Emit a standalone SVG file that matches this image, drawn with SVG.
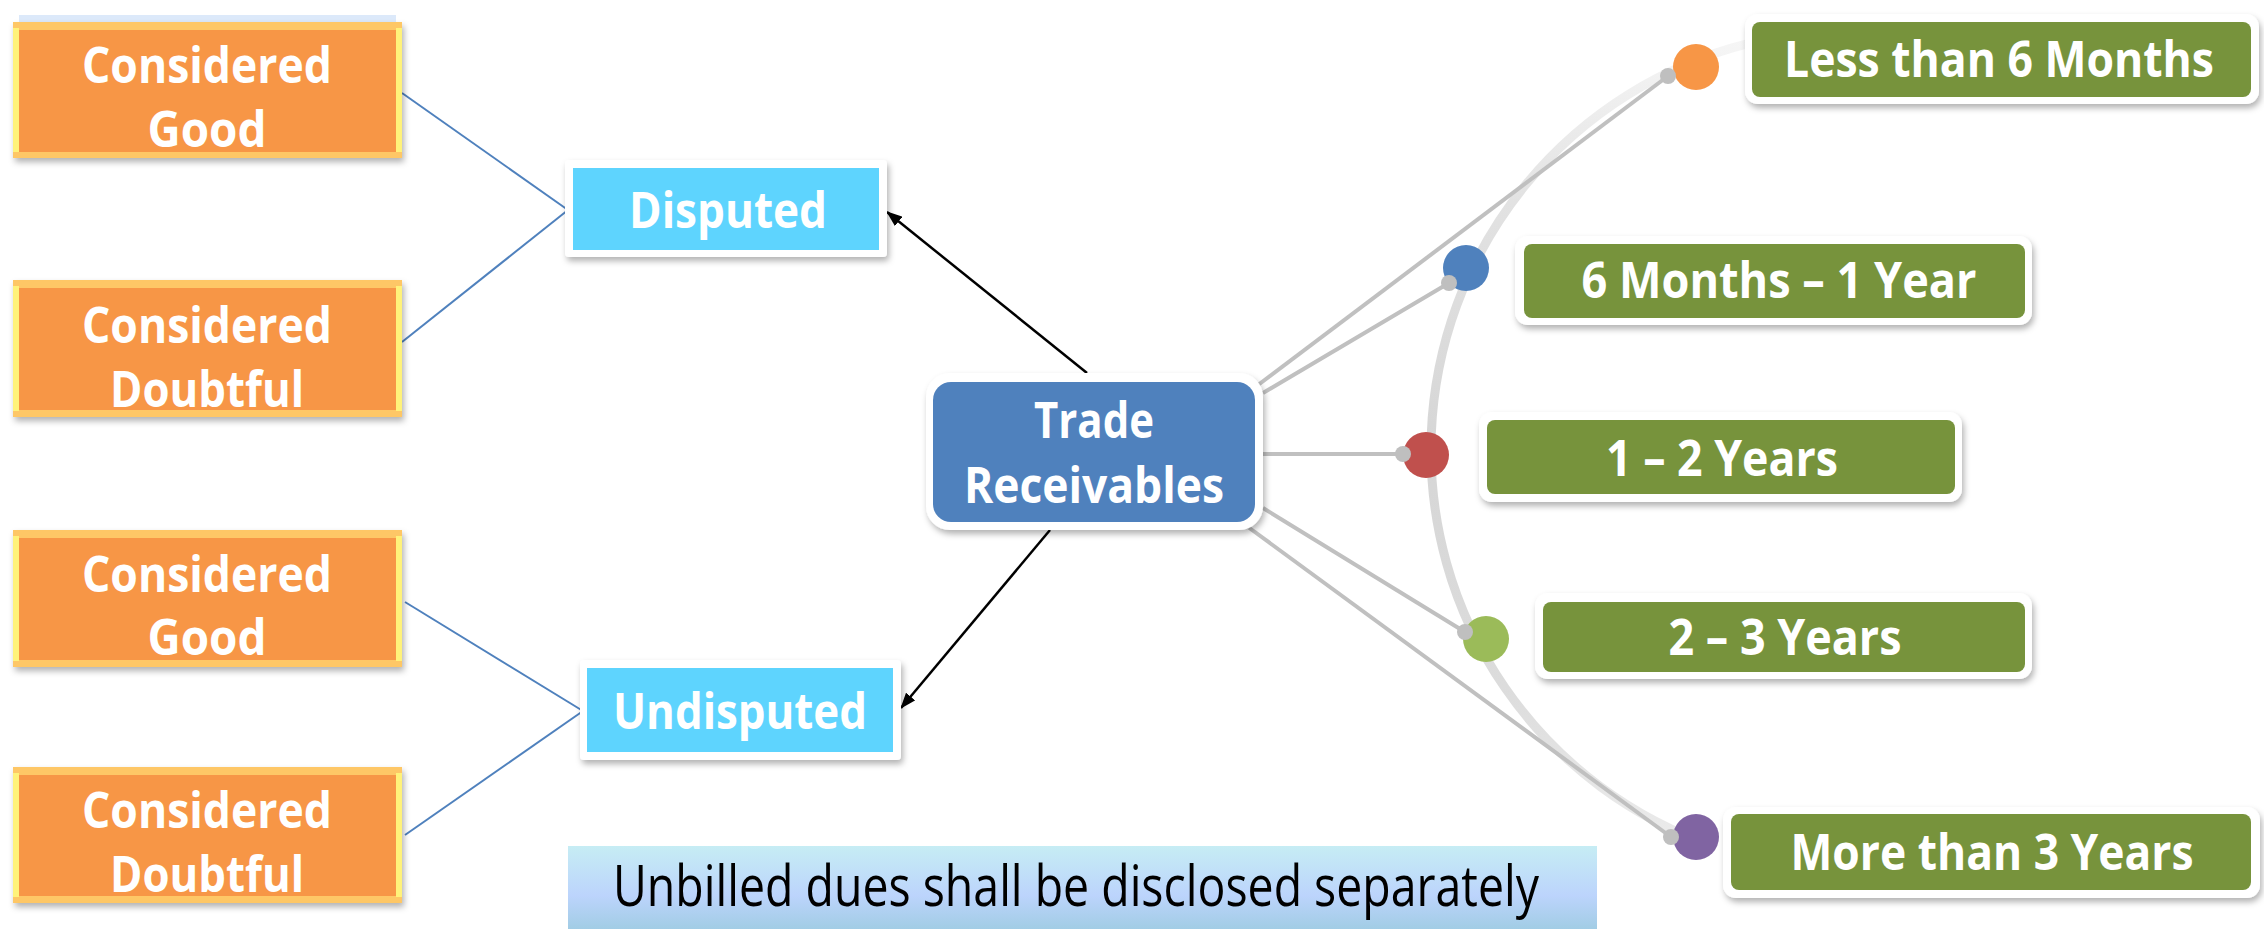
<svg xmlns="http://www.w3.org/2000/svg" width="2264" height="929" viewBox="0 0 2264 929">
<style>
.lbl{font-family:"Open Sans","Noto Sans","Liberation Sans",sans-serif;font-weight:700;font-size:50px;fill:#ffffff;text-anchor:middle}
.note{font-family:"Open Sans","Noto Sans","Liberation Sans",sans-serif;font-weight:400;font-size:56px;fill:#000000;text-anchor:middle}
.ob{fill:#fec766}
.obs{fill:#fff27a}
.of{fill:#f79646}
.frame{fill:#ffffff}
.green{fill:#77933c}
.cyan{fill:#5ed4fe}
.blink{stroke:#4f81bd;stroke-width:2;fill:none}
.blk{stroke:#000000;stroke-width:2.5;fill:none}
.gl{stroke:#c0c0c0;stroke-width:4;fill:none}
.gd{fill:#bfbfbf}
</style>
<defs>
<filter id="sh" x="-10%" y="-20%" width="120%" height="150%">
<feDropShadow dx="2" dy="4" stdDeviation="3" flood-color="#000000" flood-opacity="0.3"/>
</filter>
<linearGradient id="arcg" gradientUnits="userSpaceOnUse" x1="0" y1="40" x2="0" y2="850">
<stop offset="0" stop-color="#f6f6f6"/>
<stop offset="0.2" stop-color="#e2e2e2"/>
<stop offset="0.5" stop-color="#d6d6d6"/>
<stop offset="0.8" stop-color="#dcdcdc"/>
<stop offset="1" stop-color="#ececec"/>
</linearGradient>
<linearGradient id="ubg" x1="0" y1="0" x2="0" y2="1">
<stop offset="0" stop-color="#c6edf4"/>
<stop offset="0.55" stop-color="#bcd4fc"/>
<stop offset="1" stop-color="#9ccbe0"/>
</linearGradient>
<marker id="ah" markerWidth="16" markerHeight="12" refX="15" refY="6" orient="auto" markerUnits="userSpaceOnUse">
<path d="M0,0 L16,6 L0,12 z" fill="#000000"/>
</marker>
</defs>
<rect width="2264" height="929" fill="#ffffff"/>

<g id="timeline-arc">
<path d="M1748,43.6 A419,419 0 0 0 1716,847" stroke="url(#arcg)" stroke-width="9" fill="none"/>
</g>

<g id="connectors">
<line class="blink" x1="402" y1="93" x2="568" y2="210"/>
<line class="blink" x1="568" y1="210" x2="402" y2="342"/>
<line class="blink" x1="405" y1="602" x2="583" y2="711"/>
<line class="blink" x1="583" y1="711" x2="405" y2="835"/>
<line class="blk" x1="1087" y1="373" x2="887" y2="212" marker-end="url(#ah)"/>
<line class="blk" x1="1050" y1="530" x2="901" y2="708" marker-end="url(#ah)"/>
<line class="gl" x1="1258" y1="385" x2="1668" y2="76"/>
<line class="gl" x1="1263" y1="393" x2="1449" y2="283"/>
<line class="gl" x1="1262" y1="454" x2="1403" y2="454"/>
<line class="gl" x1="1263" y1="508" x2="1465" y2="632"/>
<line class="gl" x1="1248" y1="527" x2="1671" y2="837"/>
</g>

<g id="dots">
<circle cx="1696" cy="67" r="23" fill="#f79646"/>
<circle cx="1668" cy="76" r="8" class="gd"/>
<circle cx="1466" cy="268" r="23" fill="#4f81bd"/>
<circle cx="1449" cy="283" r="8" class="gd"/>
<circle cx="1426" cy="455" r="23" fill="#c0504d"/>
<circle cx="1403" cy="454" r="8" class="gd"/>
<circle cx="1486" cy="639" r="23" fill="#9bbb59"/>
<circle cx="1465" cy="632" r="8" class="gd"/>
<circle cx="1696" cy="837" r="23" fill="#8064a2"/>
<circle cx="1671" cy="837" r="8" class="gd"/>
</g>

<g id="good-1">
<rect x="19" y="15" width="377" height="8" fill="#dce9fa"/>
<rect class="ob" x="13" y="22" width="389" height="136" filter="url(#sh)"/>
<rect class="obs" x="13" y="28" width="6" height="124"/>
<rect class="obs" x="396" y="28" width="6" height="124"/>
<rect class="of" x="19" y="30" width="377" height="122"/>
<text class="lbl" x="207" y="83" textLength="250" lengthAdjust="spacingAndGlyphs">Considered</text>
<text class="lbl" x="207" y="147" textLength="119" lengthAdjust="spacingAndGlyphs">Good</text>
</g>

<g id="doubtful-1">
<rect class="ob" x="13" y="280" width="389" height="137" filter="url(#sh)"/>
<rect class="obs" x="13" y="286" width="6" height="125"/>
<rect class="obs" x="396" y="286" width="6" height="125"/>
<rect class="of" x="19" y="288" width="377" height="122"/>
<text class="lbl" x="207" y="343" textLength="250" lengthAdjust="spacingAndGlyphs">Considered</text>
<text class="lbl" x="207" y="407" textLength="194" lengthAdjust="spacingAndGlyphs">Doubtful</text>
</g>

<g id="good-2">
<rect class="ob" x="13" y="530" width="389" height="137" filter="url(#sh)"/>
<rect class="obs" x="13" y="536" width="6" height="125"/>
<rect class="obs" x="396" y="536" width="6" height="125"/>
<rect class="of" x="19" y="538" width="377" height="122"/>
<text class="lbl" x="207" y="592" textLength="250" lengthAdjust="spacingAndGlyphs">Considered</text>
<text class="lbl" x="207" y="655" textLength="119" lengthAdjust="spacingAndGlyphs">Good</text>
</g>

<g id="doubtful-2">
<rect class="ob" x="13" y="767" width="389" height="136" filter="url(#sh)"/>
<rect class="obs" x="13" y="773" width="6" height="124"/>
<rect class="obs" x="396" y="773" width="6" height="124"/>
<rect class="of" x="19" y="775" width="377" height="121"/>
<text class="lbl" x="207" y="828" textLength="250" lengthAdjust="spacingAndGlyphs">Considered</text>
<text class="lbl" x="207" y="892" textLength="194" lengthAdjust="spacingAndGlyphs">Doubtful</text>
</g>

<g id="disputed">
<rect class="frame" x="565" y="160" width="322" height="97" rx="4" filter="url(#sh)"/>
<rect class="cyan" x="573" y="168" width="306" height="82"/>
<text class="lbl" x="728" y="228" textLength="198" lengthAdjust="spacingAndGlyphs">Disputed</text>
</g>

<g id="undisputed">
<rect class="frame" x="580" y="660" width="321" height="100" rx="4" filter="url(#sh)"/>
<rect class="cyan" x="587" y="668" width="306" height="84"/>
<text class="lbl" x="740" y="729" textLength="254" lengthAdjust="spacingAndGlyphs">Undisputed</text>
</g>

<g id="trade-receivables">
<rect class="frame" x="926" y="373" width="337" height="157" rx="24" filter="url(#sh)"/>
<rect x="933" y="382" width="322" height="140" rx="18" fill="#4f81bd"/>
<text class="lbl" x="1094" y="438" textLength="120" lengthAdjust="spacingAndGlyphs">Trade</text>
<text class="lbl" x="1094" y="503" textLength="260" lengthAdjust="spacingAndGlyphs">Receivables</text>
</g>

<g id="less-6-months">
<rect class="frame" x="1745" y="14" width="514" height="90" rx="13" filter="url(#sh)"/>
<rect class="green" x="1752" y="22" width="499" height="75" rx="8"/>
<text class="lbl" x="1999" y="77" textLength="430" lengthAdjust="spacingAndGlyphs">Less than 6 Months</text>
</g>

<g id="6-months-1-year">
<rect class="frame" x="1515" y="236" width="517" height="89" rx="13" filter="url(#sh)"/>
<rect class="green" x="1524" y="244" width="501" height="74" rx="8"/>
<text class="lbl" x="1779" y="298" textLength="395" lengthAdjust="spacingAndGlyphs">6 Months – 1 Year</text>
</g>

<g id="1-2-years">
<rect class="frame" x="1479" y="412" width="483" height="90" rx="13" filter="url(#sh)"/>
<rect class="green" x="1487" y="420" width="468" height="74" rx="8"/>
<text class="lbl" x="1722" y="476" textLength="232" lengthAdjust="spacingAndGlyphs">1 – 2 Years</text>
</g>

<g id="2-3-years">
<rect class="frame" x="1535" y="593" width="497" height="86" rx="13" filter="url(#sh)"/>
<rect class="green" x="1543" y="602" width="482" height="70" rx="8"/>
<text class="lbl" x="1785" y="655" textLength="233" lengthAdjust="spacingAndGlyphs">2 – 3 Years</text>
</g>

<g id="more-3-years">
<rect class="frame" x="1723" y="807" width="537" height="91" rx="13" filter="url(#sh)"/>
<rect class="green" x="1731" y="814" width="520" height="76" rx="8"/>
<text class="lbl" x="1992" y="870" textLength="403" lengthAdjust="spacingAndGlyphs">More than 3 Years</text>
</g>

<g id="unbilled-note">
<rect x="568" y="846" width="1029" height="90" fill="url(#ubg)"/>
<text class="note" x="1076" y="906" textLength="926" lengthAdjust="spacingAndGlyphs">Unbilled dues shall be disclosed separately</text>
</g>
</svg>
